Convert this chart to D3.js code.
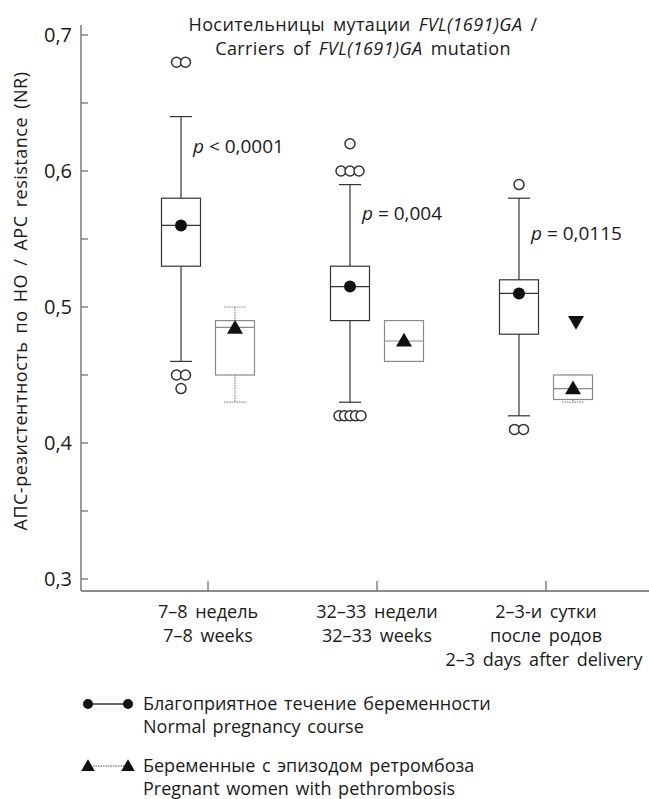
<!DOCTYPE html>
<html>
<head>
<meta charset="utf-8">
<script src="https://cdn.jsdelivr.net/npm/d3@7"></script>
<style>
  body { margin: 0; background: #fff; }
  svg text { font-family: "Open Sans", "Noto Sans", sans-serif; fill: #1a1a1a; }
</style>
</head>
<body>
<div id="chart"></div>
<script>
// categories (lines of each x label)
var categories = [
    ["7–8 недель", "7–8 weeks"],
    ["32–33 недели", "32–33 weeks"],
    ["2–3-и сутки", "после родов", "2–3 days after delivery"]
];
var yTicks = [0.3, 0.4, 0.5, 0.6, 0.7];
var yMinorTicks = [0.35, 0.45, 0.55, 0.65];

// box summaries: [lower whisker, q1, median, q3, upper whisker]
var normalBox = [
    [0.46, 0.53, 0.56, 0.58, 0.64],
    [0.43, 0.49, 0.515, 0.53, 0.59],
    [0.42, 0.48, 0.51, 0.52, 0.58]
];
var normalMean = [0.56, 0.515, 0.51];
var normalOutliers = [
    [0.68, 0.68, 0.45, 0.45, 0.44],
    [0.62, 0.60, 0.60, 0.60, 0.42, 0.42, 0.42, 0.42, 0.42],
    [0.59, 0.41, 0.41]
];

var thrombBox = [
    [0.43, 0.45, 0.485, 0.49, 0.50],
    [0.46, 0.46, 0.475, 0.49, 0.49],
    [0.43, 0.432, 0.44, 0.45, 0.45]
];
var thrombMean = [0.4845, 0.475, 0.44];
var thrombOutliers = [[], [], [0.49]];

var pValues = [["<", "0,0001"], ["=", "0,004"], ["=", "0,0115"]];
var pAt = [0.613, 0.564, 0.549];

var width = 649, height = 799;
var svg = d3.select("#chart").append("svg")
    .attr("width", width).attr("height", height);

var y = d3.scaleLinear().domain([0.3, 0.7]).range([579, 35]);
var x = d3.scalePoint().domain(d3.range(categories.length)).range([208, 546]);
var axisX = 81, axisY = 591;
var boxW = 39, capW = 22, off = 27;
var dark = "#333", grey = "#8a8a8a";

// axes lines
svg.append("line").attr("x1", axisX).attr("x2", axisX).attr("y1", 25).attr("y2", axisY)
    .attr("stroke", "#666").attr("stroke-width", 1.3);
svg.append("line").attr("x1", axisX).attr("x2", 649).attr("y1", axisY).attr("y2", axisY)
    .attr("stroke", "#666").attr("stroke-width", 1.3);

svg.selectAll(".ytick").data(yTicks.concat(yMinorTicks)).enter().append("line")
    .attr("x1", axisX).attr("x2", axisX + 7)
    .attr("y1", function (d) { return y(d); }).attr("y2", function (d) { return y(d); })
    .attr("stroke", "#666").attr("stroke-width", 1.2);

svg.selectAll(".ylab").data(yTicks).enter().append("text")
    .attr("x", 72).attr("y", function (d) { return y(d) + 7; })
    .attr("text-anchor", "end").attr("font-size", 20)
    .text(function (d) { return d3.format(".1f")(d).replace(".", ","); });

svg.selectAll(".xtick").data(d3.range(categories.length)).enter().append("line")
    .attr("x1", function (d) { return x(d); }).attr("x2", function (d) { return x(d); })
    .attr("y1", axisY).attr("y2", axisY - 10)
    .attr("stroke", "#666").attr("stroke-width", 1.2);

categories.forEach(function (lines, i) {
    svg.append("text")
        .attr("text-anchor", "middle").attr("font-size", 18).attr("word-spacing", 3)
        .selectAll("tspan").data(lines).enter().append("tspan")
        .attr("x", function (d, j) { return j === 2 ? x(i) - 2 : x(i); })
        .attr("y", function (d, j) { return 618 + j * 24; })
        .text(function (d) { return d; });
});

// y axis title
svg.append("text")
    .attr("transform", "translate(27,301) rotate(-90)")
    .attr("text-anchor", "middle").attr("font-size", 18)
    .attr("letter-spacing", 0.5).attr("word-spacing", 3)
    .text("АПС-резистентность по НО / APC resistance (NR)");

// chart title
var title = svg.append("text").attr("text-anchor", "middle").attr("font-size", 18)
    .attr("letter-spacing", 0.4).attr("word-spacing", 3);
var t1 = [["Носительницы мутации ", false], ["FVL(1691)GA", true], [" /", false]];
var t2 = [["Carriers of ", false], ["FVL(1691)GA", true], [" mutation", false]];
[t1, t2].forEach(function (parts, k) {
    var line = title.append("tspan").attr("x", 363).attr("y", 31 + k * 24);
    parts.forEach(function (p) {
        line.append("tspan").attr("font-style", p[1] ? "italic" : "normal").text(p[0]);
    });
});

function drawBox(g, stats, cx, color, dashed) {
    var sw = 1.2;
    var dash = dashed ? "1.5,1" : null;
    g.append("line").attr("x1", cx).attr("x2", cx)
        .attr("y1", y(stats[4])).attr("y2", y(stats[3]))
        .attr("stroke", color).attr("stroke-width", sw).attr("stroke-dasharray", dash);
    g.append("line").attr("x1", cx).attr("x2", cx)
        .attr("y1", y(stats[1])).attr("y2", y(stats[0]))
        .attr("stroke", color).attr("stroke-width", sw).attr("stroke-dasharray", dash);
    [stats[0], stats[4]].forEach(function (v) {
        g.append("line").attr("x1", cx - capW / 2).attr("x2", cx + capW / 2)
            .attr("y1", y(v)).attr("y2", y(v))
            .attr("stroke", color).attr("stroke-width", sw).attr("stroke-dasharray", dash);
    });
    g.append("rect").attr("x", cx - boxW / 2).attr("width", boxW)
        .attr("y", y(stats[3])).attr("height", y(stats[1]) - y(stats[3]))
        .attr("fill", "#fff").attr("stroke", color).attr("stroke-width", sw);
    g.append("line").attr("x1", cx - boxW / 2).attr("x2", cx + boxW / 2)
        .attr("y1", y(stats[2])).attr("y2", y(stats[2]))
        .attr("stroke", color).attr("stroke-width", sw);
}

var tri = d3.symbol().type(d3.symbolTriangle).size(110);

categories.forEach(function (c, i) {
    var g = svg.append("g");
    var cn = x(i) - off, ct = x(i) + off;

    drawBox(g, thrombBox[i], ct, grey, true);
    drawBox(g, normalBox[i], cn, dark, false);

    // outliers: equal values spread side by side
    var groups = d3.groups(normalOutliers[i], function (d) { return d; });
    groups.forEach(function (gr) {
        var n = gr[1].length;
        var step = n > 3 ? 5.5 : 9;
        gr[1].forEach(function (v, k) {
            g.append("circle")
                .attr("cx", cn + (k - (n - 1) / 2) * step)
                .attr("cy", y(v)).attr("r", 5)
                .attr("fill", "#fff").attr("stroke", dark).attr("stroke-width", 1.5);
        });
    });

    g.append("circle").attr("cx", cn).attr("cy", y(normalMean[i])).attr("r", 6)
        .attr("fill", "#111");

    g.append("path").attr("d", tri)
        .attr("transform", "translate(" + ct + "," + (y(thrombMean[i]) + 1) + ")")
        .attr("fill", "#111");

    thrombOutliers[i].forEach(function (v) {
        g.append("path").attr("d", tri)
            .attr("transform", "translate(" + (ct + 3) + "," + y(v) + ") rotate(180)")
            .attr("fill", "#111");
    });

    var pt = svg.append("text").attr("x", x(i) - 15).attr("y", y(pAt[i]))
        .attr("font-size", 19);
    pt.append("tspan").attr("font-style", "italic").text("p");
    pt.append("tspan").text(" " + pValues[i][0] + " " + pValues[i][1]);
});

// legend
var legend = svg.append("g");
var legRows = [
    {y: 704, lines: ["Благоприятное течение беременности", "Normal pregnancy course"], kind: "circle"},
    {y: 766, lines: ["Беременные с эпизодом ретромбоза", "Pregnant women with pethrombosis"], kind: "tri"}
];
legRows.forEach(function (r) {
    legend.append("line").attr("x1", 88).attr("x2", 128).attr("y1", r.y).attr("y2", r.y)
        .attr("stroke", r.kind === "circle" ? dark : grey).attr("stroke-width", 1.3)
        .attr("stroke-dasharray", r.kind === "circle" ? null : "1.5,1");
    [88, 128].forEach(function (lx) {
        if (r.kind === "circle") {
            legend.append("circle").attr("cx", lx).attr("cy", r.y).attr("r", 5).attr("fill", "#111");
        } else {
            legend.append("path").attr("d", d3.symbol().type(d3.symbolTriangle).size(80))
                .attr("transform", "translate(" + lx + "," + (r.y + 1) + ")").attr("fill", "#111");
        }
    });
    legend.append("text").attr("font-size", 18).attr("word-spacing", 2)
        .selectAll("tspan").data(r.lines).enter().append("tspan")
        .attr("x", 143).attr("y", function (d, j) { return r.y + 6 + j * 23; })
        .text(function (d) { return d; });
});
</script>
</body>
</html>
